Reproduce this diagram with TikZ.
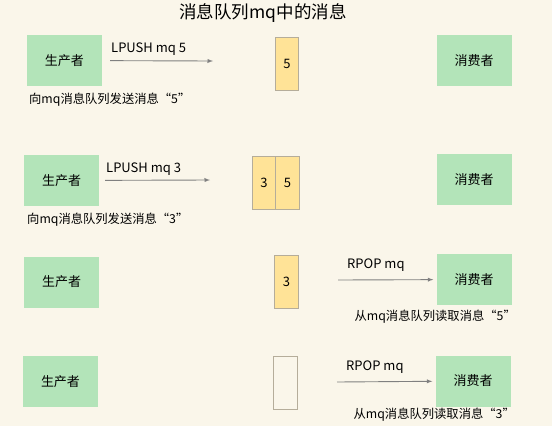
\documentclass[tikz,border=0pt]{standalone}
\usepackage{fontspec}
\newfontfamily\cjk{Noto Sans CJK SC}
\definecolor{myBack}{HTML}{FAF6EA}
\definecolor{myGreen}{HTML}{B3E4B9}
\definecolor{myYellow}{HTML}{FFE397}
\definecolor{myEdge}{HTML}{B5AD9A}
\definecolor{myGray}{HTML}{808080}

\begin{document}
\begin{tikzpicture}[>=latex, x=1pt, y=-1pt, font=\cjk]

  \tikzstyle{P}=[rectangle,fill=myGreen,minimum width=75pt,minimum height=51pt,inner sep=2pt, font=\cjk\fontsize{13}{15}\selectfont]
  \tikzstyle{Q}=[rectangle,fill=myYellow,draw=myEdge,line width=1pt,minimum width=23.5pt,minimum height=53pt,inner sep=1pt, font=\cjk\fontsize{13}{15}\selectfont]
  \tikzstyle{T}=[inner sep=0pt, font=\cjk\fontsize{13}{15}\selectfont]
  \tikzstyle{N}=[inner sep=0pt, font=\cjk\fontsize{12.3}{14}\selectfont]
  \tikzstyle{A}=[->, myGray, line width=0.9pt]

  \fill[myBack] (0,0) rectangle (552,426);
  \useasboundingbox (0,0) rectangle (552,426);

  \node[inner sep=0pt, font=\cjk\fontsize{17.5}{20}\selectfont] at (263,13) (title) {消息队列mq中的消息};

  % LPUSH mq 5
  \node[P] at (64.5,60.5) (prodA) {生产者};
  \node[P] at (474,60.5) (consA) {消费者};
  \node[Q] at (287,63.5) (qA) {5};
  \coordinate (endA) at (213,61);
  \draw[A, shorten <=8pt] (prodA) -- (endA);
  \node[T, anchor=west] at (111,49) (cmdA) {LPUSH mq 5};
  \node[N, anchor=west] at (29,100) (noteA) {向mq消息队列发送消息“5”};

  % LPUSH mq 3
  \node[P] at (61.5,180.5) (prodB) {生产者};
  \node[P] at (474,179.5) (consB) {消费者};
  \node[Q] at (264,182.5) (qBl) {3};
  \node[Q] at (287.5,182.5) (qBr) {5};
  \coordinate (endB) at (210,180);
  \draw[A, shorten <=6pt] (prodB) -- (endB);
  \node[T, anchor=west] at (106,169) (cmdB) {LPUSH mq 3};
  \node[N, anchor=west] at (27,220) (noteB) {向mq消息队列发送消息“3”};

  % RPOP mq -> 5
  \node[P] at (61.5,282) (prodC) {生产者};
  \node[P] at (474,279.5) (consC) {消费者};
  \node[Q] at (286.5,281.5) (qC) {3};
  \coordinate (startC) at (338,280);
  \draw[A, shorten >=3pt] (startC) -- (consC);
  \node[T, anchor=west] at (347,265) (cmdC) {RPOP mq};
  \node[N, anchor=east] at (516,317) (noteC) {从mq消息队列读取消息“5”};

  % RPOP mq -> 3
  \node[P] at (60.5,381.5) (prodD) {生产者};
  \node[P] at (473,381) (consD) {消费者};
  \node[Q, fill=myBack] at (285.5,383) (qD) {};
  \coordinate (startD) at (337,382);
  \draw[A, shorten >=3pt] (startD) -- (consD);
  \node[T, anchor=west] at (346,367) (cmdD) {RPOP mq};
  \node[N, anchor=east] at (515,415) (noteD) {从mq消息队列读取消息“3”};

\end{tikzpicture}
\end{document}
